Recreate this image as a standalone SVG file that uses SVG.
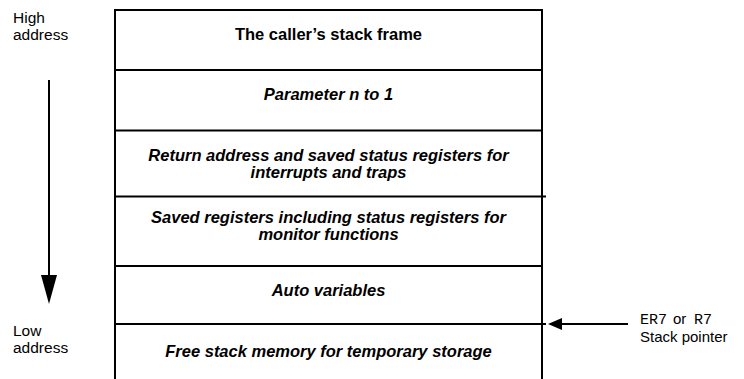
<svg xmlns="http://www.w3.org/2000/svg" width="744" height="379" viewBox="0 0 744 379">
<style>
.lbl{font-family:"Liberation Sans",Arial,sans-serif;font-size:15.5px;fill:#000}
.row{font-family:"Liberation Sans",Arial,sans-serif;font-size:16.5px;font-weight:bold;font-style:italic;fill:#000;text-anchor:middle}
.rowb{font-family:"Liberation Sans",Arial,sans-serif;font-size:16.5px;font-weight:bold;fill:#000;text-anchor:middle}
.mono{font-family:"Liberation Mono","Courier New",monospace;font-size:15px;fill:#000}
.sp{font-family:"Liberation Sans",Arial,sans-serif;font-size:15px;fill:#000}
.ln{stroke:#000;stroke-width:2;fill:none}
</style>
<rect width="744" height="379" fill="#fff"/>
<g id="labels">
<text class="lbl" x="13" y="23">High</text>
<text class="lbl" x="13" y="40">address</text>
<text class="lbl" x="13" y="336">Low</text>
<text class="lbl" x="13" y="353">address</text>
</g>
<g id="stack">
<path class="ln" d="M115,379 V10 H542 V379"/>
<line class="ln" x1="115" y1="70" x2="542" y2="70"/>
<line class="ln" x1="115" y1="130.5" x2="542" y2="130.5"/>
<line class="ln" x1="115" y1="196.5" x2="546" y2="196.5"/>
<line class="ln" x1="115" y1="266" x2="542" y2="266"/>
<line class="ln" x1="115" y1="324" x2="546" y2="324"/>
</g>
<g id="row1"><text class="rowb" x="328.5" y="40">The caller’s stack frame</text></g>
<g id="row2"><text class="row" x="328.5" y="100">Parameter n to 1</text></g>
<g id="row3"><text class="row" x="328.5" y="161">Return address and saved status registers for</text><text class="row" x="328.5" y="178">interrupts and traps</text></g>
<g id="row4"><text class="row" x="328.5" y="223">Saved registers including status registers for</text><text class="row" x="328.5" y="240">monitor functions</text></g>
<g id="row5"><text class="row" x="328.5" y="296">Auto variables</text></g>
<g id="row6"><text class="row" x="328.5" y="357">Free stack memory for temporary storage</text></g>
<g id="sp">
<text class="mono" x="640" y="324">ER7</text>
<text class="sp" x="673" y="324">or</text>
<text class="mono" x="694" y="324">R7</text>
<text class="sp" x="640" y="342">Stack pointer</text>
</g>
<g id="connectors">
<line class="ln" x1="49" y1="80" x2="49" y2="276"/>
<polygon points="41,275 57,275 49,304" fill="#000"/>
<line class="ln" x1="628" y1="324" x2="561" y2="324"/>
<polygon points="562,318 562,330 548,324" fill="#000"/>
</g>
</svg>
